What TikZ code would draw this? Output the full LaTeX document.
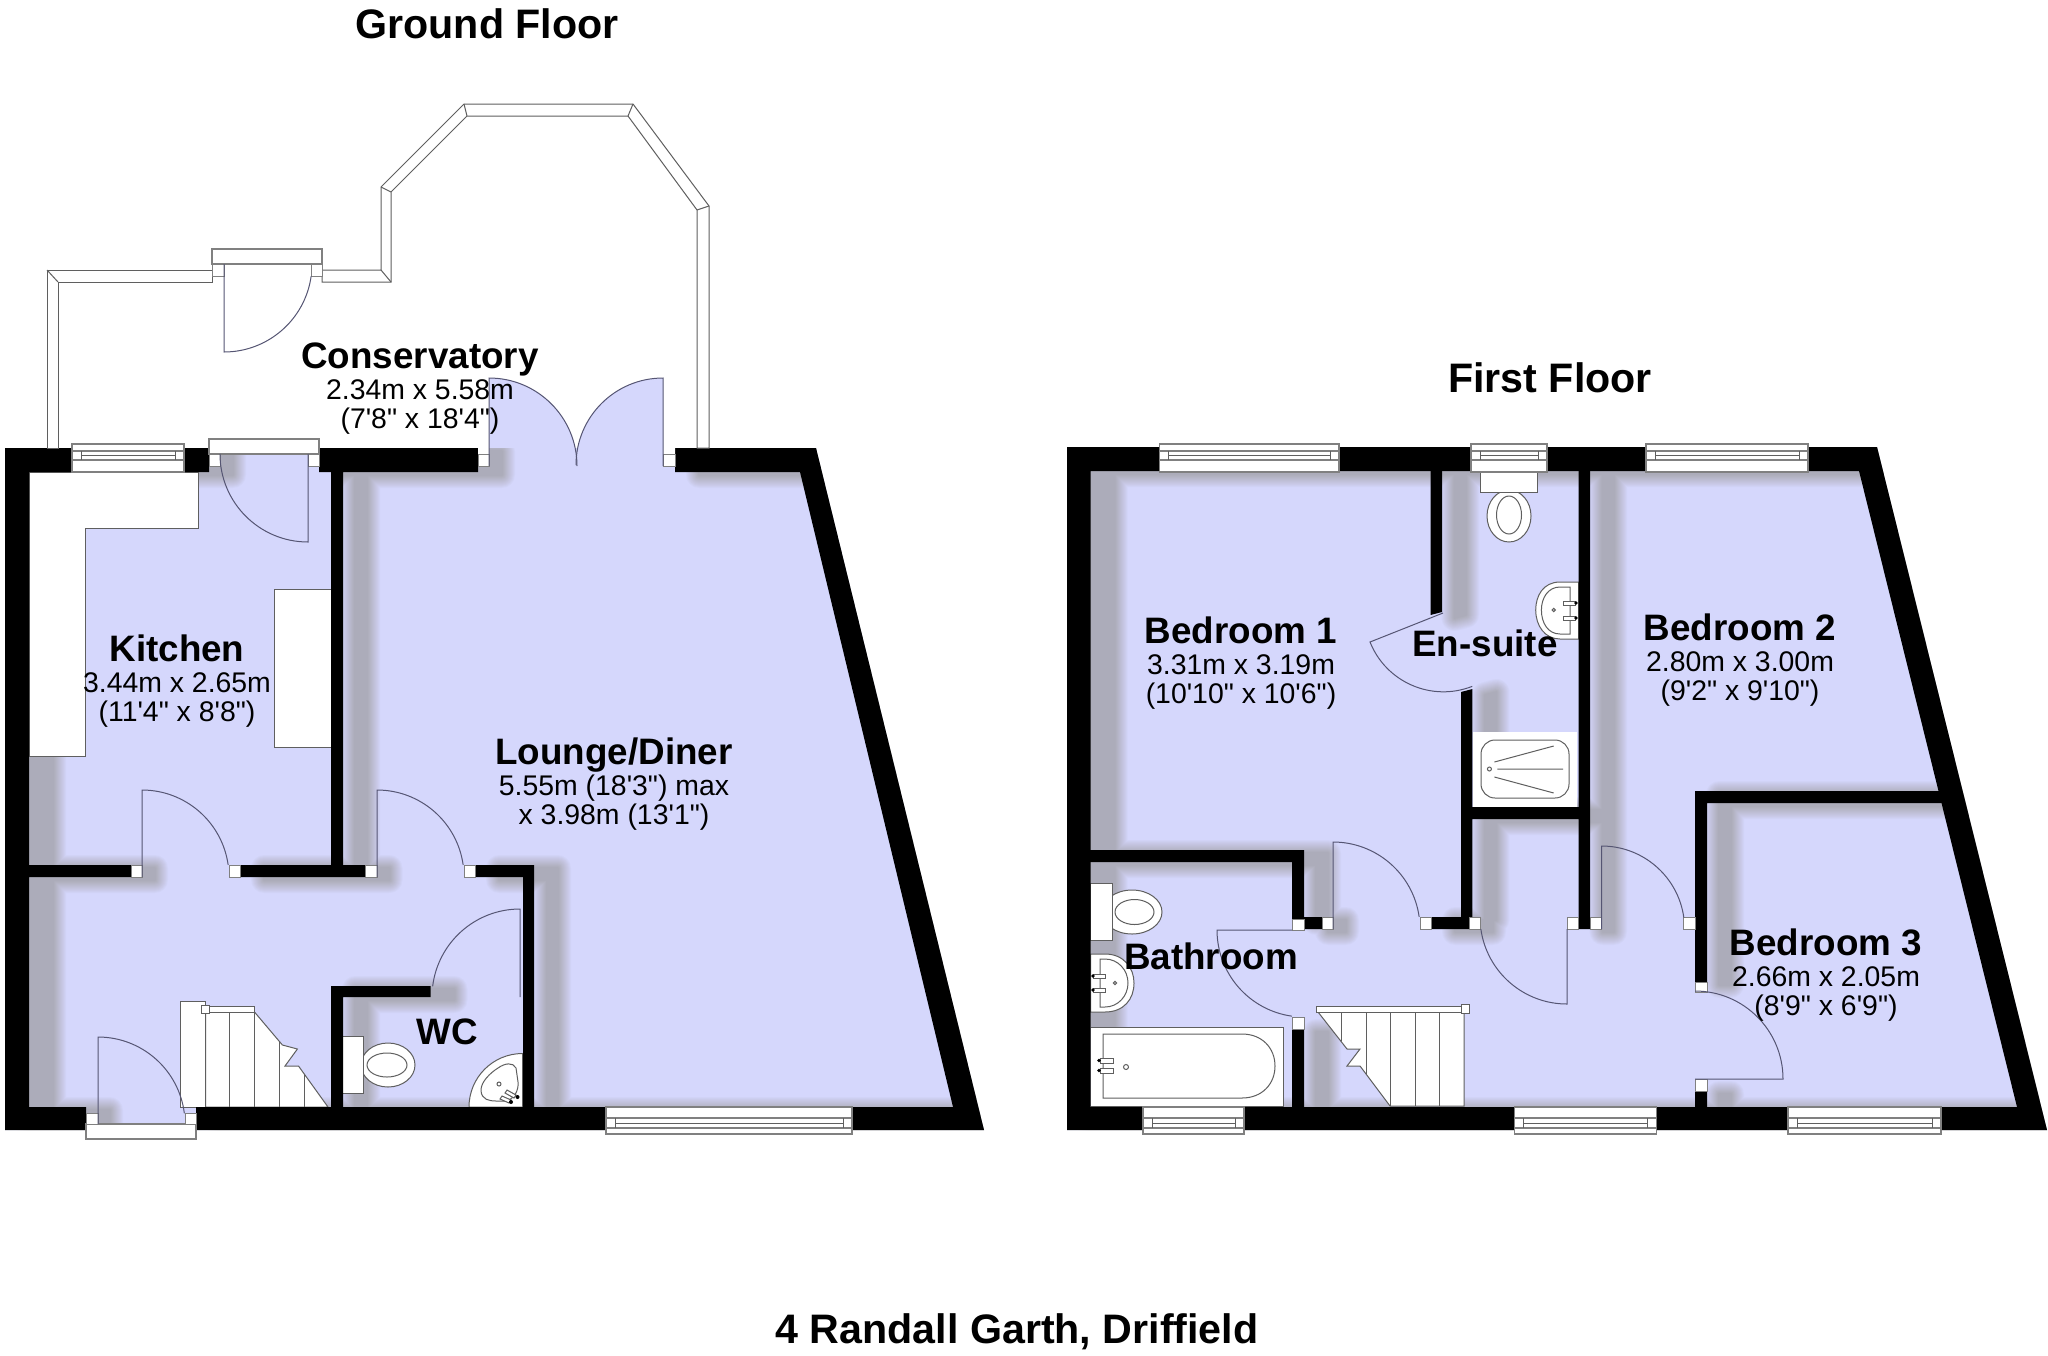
\documentclass[tikz,border=0pt]{standalone}
\usepackage{fontspec}
\usepackage{xcolor}
\usepackage{tikz}
\newfontfamily\planfont{Liberation Sans}
\definecolor{floorblue}{RGB}{213,215,252}
\definecolor{swingline}{RGB}{85,85,115}
\definecolor{fixline}{RGB}{95,95,95}
\definecolor{castshade}{RGB}{81,75,24}
\tikzset{
    floorplan/.style={fill=floorblue},
    wallmass/.style={fill=black},
    shadowlayer/.style={draw=castshade, fill=castshade, line join=round},
    doorline/.style={draw=swingline, line width=0.5pt},
    fixture/.style={fill=white, draw=fixline, line width=0.5pt},
    fineline/.style={draw=fixline, line width=0.5pt},
    jamb/.style={fill=white, draw=gray, line width=0.5pt},
    glazing/.style={fill=white, draw=gray, line width=0.7pt},
    conswall/.style={fill=white, draw=fixline, line width=0.5pt, line join=miter},
    plantitle/.style={font=\planfont\bfseries\fontsize{20.6}{24}\selectfont},
    roomname/.style={font=\planfont\bfseries\fontsize{18.4}{20}\selectfont},
    roomlabel/.style={font=\planfont\fontsize{14.2}{14.5}\selectfont, align=center, inner sep=0pt}
}
\newcommand{\roomtext}[3]{{\bfseries\fontsize{18.4}{14.5}\selectfont #1}\\[1pt]#2\\#3}
% outlines, in pixels of the plan
\newcommand{\groundfloor}{(5,448) -- (816,448) -- (984,1130) -- (5,1130) -- cycle}
\newcommand{\firstfloor}{(1067,447) -- (1877,447) -- (2047,1130) -- (1067,1130) -- cycle}
\newcommand{\groundwalls}{
    (5,448) -- (209,448) -- (209,472) -- (29,472) -- (29,1107) -- (86,1107) -- (86,1130) -- (5,1130) -- cycle
    (319,448) -- (478,448) -- (478,472) -- (343,472) -- (343,877) -- (331,877) -- (331,472) -- (319,472) -- cycle
    (29,865) -- (131,865) -- (131,877) -- (29,877) -- cycle
    (240,865) -- (365.5,865) -- (365.5,877) -- (240,877) -- cycle
    (475,865) -- (534,865) -- (534,1107) -- (523,1107) -- (523,877) -- (475,877) -- cycle
    (331,986) -- (430.5,986) -- (430.5,997) -- (343,997) -- (343,1107) -- (331,1107) -- cycle
    (675,448) -- (816,448) -- (984,1130) -- (196,1130) -- (196,1107) -- (953,1107) -- (800,472) -- (675,472) -- cycle
}
\newcommand{\firstshell}{
    (1067,447) -- (1877,447) -- (2047,1130) -- (1067,1130) -- cycle
    (1090.6,471) -- (1859,471) -- (2017,1107) -- (1090.6,1107) -- cycle
}
\newcommand{\firstwalls}{
    (1430.5,471) -- (1442,471) -- (1442,612) -- (1430.5,615) -- cycle
    (1461,692) -- (1472.4,689) -- (1472.4,917) -- (1469,917) -- (1469,929) -- (1431,929) -- (1431,917) -- (1461,917) -- cycle
    (1461,807) -- (1590,807) -- (1590,819) -- (1461,819) -- cycle
    (1578.6,471) -- (1590,471) -- (1590,929) -- (1578.6,929) -- cycle
    (1695,791) -- (1945,791) -- (1945,803) -- (1707,803) -- (1707,982) -- (1695,982) -- cycle
    (1695,1091) -- (1707,1091) -- (1707,1107) -- (1695,1107) -- cycle
    (1090,850) -- (1304,850) -- (1304,919) -- (1292,919) -- (1292,862) -- (1090,862) -- cycle
    (1304,917) -- (1322,917) -- (1322,929) -- (1304,929) -- cycle
    (1292,1029) -- (1304,1029) -- (1304,1107) -- (1292,1107) -- cycle
}
\begin{document}
\begin{tikzpicture}[x=0.5pt, y=-0.5pt]
    \useasboundingbox (0,0) rectangle (2048,1355);
    % floors
    \fill[floorplan] \groundfloor;
    \fill[floorplan] \firstfloor;
    \fill[floorplan] (489,466) -- (489,378) arc[start angle=270, end angle=360, radius=88] -- cycle;
    \fill[floorplan] (663,466) -- (663,378) arc[start angle=270, end angle=180, radius=87] -- cycle;
    % soft shadows of the walls
    \foreach \sw in {1,...,13} {
        \begin{scope}[transparency group, opacity=0.022]
            \clip \groundfloor;
            \draw[shadowlayer, line width=\sw pt, shift={(24,3)}] \groundwalls;
        \end{scope}
        \begin{scope}[transparency group, opacity=0.022]
            \clip \firstfloor;
            \draw[shadowlayer, line width=\sw pt, shift={(24,3)}, even odd rule] \firstshell;
            \draw[shadowlayer, line width=\sw pt, shift={(24,3)}] \firstwalls;
        \end{scope}
    }
    % kitchen units
    \draw[fixture] (29,472) -- (198,472) -- (198,528) -- (85.7,528) -- (85.7,756) -- (29,756) -- cycle;
    \draw[fixture] (331,589) -- (274,589) -- (274,747) -- (331,747) -- cycle;
    % stairs, ground floor
    \draw[fixture] (205.5,1012) -- (254.5,1012) -- (282.4,1045) -- (297.4,1049) -- (285,1066) -- (298.5,1066) -- (328,1107) -- (205.5,1107) -- cycle;
    \draw[fineline] (229.6,1012) -- (229.6,1107) (254.5,1012) -- (254.5,1107) (279,1041) -- (279,1107) (304,1074) -- (304,1107);
    \draw[fixture] (180,1001) rectangle (205.5,1107);
    \draw[fixture] (209,1006) rectangle (254.5,1012);
    \draw[fixture] (201,1005) rectangle (209,1013);
    % stairs, first floor
    \draw[fixture] (1318,1012) -- (1347,1049) -- (1360,1049) -- (1347,1066) -- (1360,1066) -- (1390,1106) -- (1464,1106) -- (1464,1012) -- cycle;
    \draw[fineline] (1341,1012) -- (1341,1041) (1366,1012) -- (1366,1074) (1390,1012) -- (1390,1106) (1415,1012) -- (1415,1106) (1439.5,1012) -- (1439.5,1106);
    \draw[fixture] (1316.5,1006) rectangle (1464,1012);
    \draw[fixture] (1461,1004) rectangle (1469.6,1013);
    % wc toilet and corner basin
    \draw[fixture] (388,1065) ellipse[x radius=27, y radius=22];
    \draw[fixture] (387,1065) ellipse[x radius=20, y radius=12];
    \draw[fixture] (342.5,1036) rectangle (363.6,1093);
    \draw[fixture] (469,1107) arc[start angle=180, end angle=270, radius=53.5] -- (522.5,1107) -- cycle;
    \draw[fineline] (516,1068) .. controls (513,1062) and (505,1063) .. (498,1068) .. controls (490,1073) and (481,1082) .. (481,1090) .. controls (481,1100) and (490,1101) .. (496,1101) -- (505,1101) .. controls (514,1100) and (519,1090) .. (518,1082) -- cycle;
    \draw[fineline] (499,1084) circle[radius=2];
    \draw[fixture] (507,1090) -- (516,1095) -- (514,1098) -- (505,1093) -- cycle;
    \draw[fixture] (502,1096) -- (511,1100) -- (509,1103) -- (500,1099) -- cycle;
    \fill (517.5,1097) circle[radius=2] (511,1102) circle[radius=2];
    % ensuite fittings
    \draw[fixture] (1509,516) ellipse[x radius=22, y radius=26];
    \draw[fixture] (1509,515) ellipse[x radius=12.5, y radius=19];
    \draw[fixture] (1480,471) rectangle (1537.6,492);
    \draw[fixture] (1578.6,582) -- (1560,582) .. controls (1543,582) and (1535.7,596) .. (1535.7,610) .. controls (1535.7,626) and (1545,639) .. (1560,639) -- (1578.6,639) -- cycle;
    \draw[fineline] (1570,587) -- (1560,587) .. controls (1548,587) and (1541.4,598) .. (1541.4,610) .. controls (1541.4,623) and (1548,634) .. (1560,634) -- (1570,634) -- cycle;
    \draw[fineline] (1553.7,610) circle[radius=1.6];
    \draw[fixture] (1563,601) rectangle (1575,605);
    \draw[fixture] (1563,616) rectangle (1575,620);
    \fill (1576,603) circle[radius=1.8] (1576,618) circle[radius=1.8];
    \fill[white] (1472.5,732) rectangle (1577,807);
    \draw[fineline, rounded corners=7pt] (1481,740) rectangle (1569,798);
    \draw[fineline] (1489.4,769) circle[radius=2];
    \draw[fineline] (1494.4,762) -- (1553.7,746) (1497.4,769) -- (1563,769) (1494.4,777) -- (1553.7,793);
    % bathroom fittings
    \draw[fixture] (1132,912) ellipse[x radius=30, y radius=22];
    \draw[fixture] (1134.5,912) ellipse[x radius=19.5, y radius=12.5];
    \draw[fixture] (1090.6,883) rectangle (1112,940);
    \draw[fixture] (1090.6,954) -- (1105,954) .. controls (1124,954) and (1134,968) .. (1134,983) .. controls (1134,999) and (1124,1012) .. (1105,1012) -- (1090.6,1012) -- cycle;
    \draw[fineline] (1100,959) -- (1105,959) .. controls (1118,959) and (1128,970) .. (1128,983) .. controls (1128,996) and (1118,1007) .. (1105,1007) -- (1100,1007) -- cycle;
    \draw[fineline] (1115,983) circle[radius=1.6];
    \draw[fixture] (1093,974) rectangle (1105,978);
    \draw[fixture] (1093,988) rectangle (1105,992);
    \fill (1093,976) circle[radius=1.8] (1093,990) circle[radius=1.8];
    \draw[fixture] (1090.6,1027) -- (1283,1027) -- (1283,1106) -- (1090.6,1106);
    \draw[fineline] (1103,1034) -- (1242,1034) .. controls (1262,1034) and (1275,1048) .. (1275,1066) .. controls (1275,1084) and (1262,1098) .. (1242,1098) -- (1103,1098) -- cycle;
    \draw[fineline] (1126,1067) circle[radius=2.5];
    \draw[fixture] (1100,1058) rectangle (1113,1063);
    \draw[fixture] (1100,1068) rectangle (1113,1073);
    \fill (1099,1060.5) circle[radius=1.8] (1099,1070.5) circle[radius=1.8];
    % walls
    \fill[wallmass] \groundwalls;
    \fill[wallmass, even odd rule] \firstshell;
    \fill[wallmass] \firstwalls;
    % conservatory
    \draw[conswall] (47,448) -- (47,270) -- (212,270) -- (212,282) -- (58,282) -- (58,448) -- cycle;
    \draw[conswall] (322,270) -- (381,270) -- (381,187) -- (464,104) -- (633,104) -- (709,206) -- (709,448) -- (697,448) -- (697,210) -- (628,116) -- (467,116) -- (391,192) -- (391,282) -- (322,282) -- cycle;
    \draw[fineline] (47,270) -- (58,282) (381,270) -- (391,282) (381,187) -- (391,192) (464,104) -- (467,116) (633,104) -- (628,116) (709,206) -- (697,210);
    \fill[white] (478,448) rectangle (489,454) (663,448) rectangle (675,454);
    % door frames and jambs
    \draw[glazing] (212,249) rectangle (322,264);
    \draw[glazing] (209,439) rectangle (319,454);
    \draw[glazing] (86,1124) rectangle (196,1139);
    \foreach \ja/\jb/\jc/\jd in {
        212/264/224/276, 311/264/322/276, 209/454/220/466, 308/454/319/466,
        478/454/489/466, 663/454/675/466, 131/865/142/877, 229/865/240/877,
        365.5/865/377/877, 464/865/475/877, 86/1113/98/1124, 185/1113/196/1124,
        1292/919/1304/930, 1322/917/1333/929, 1420/917/1431/929, 1469/917/1480/929,
        1567/917/1578.6/929, 1590/917/1601.6/929, 1683.5/917/1695/929,
        1695/982/1707/992, 1695/1079/1707/1091, 1292/1017/1304/1029}
        \draw[jamb] (\ja,\jb) rectangle (\jc,\jd);
    % windows
    \foreach \xa/\xb in {72/184, 1159.5/1339, 1471/1547, 1646/1808} {
        \draw[glazing] (\xa,444) rectangle (\xb,472);
        \draw[glazing] (\xa,451) -- (\xb,451) (\xa,460) -- (\xb,460);
        \draw[fineline] (\xa+9,451) -- (\xa+9,460) (\xb-9,451) -- (\xb-9,460) (\xa+9,455.5) -- (\xb-9,455.5);
    }
    \foreach \xa/\xb in {606/852, 1143/1244, 1514.5/1656.6, 1788/1941} {
        \draw[glazing] (\xa,1107) rectangle (\xb,1134);
        \draw[glazing] (\xa,1118) -- (\xb,1118) (\xa,1128) -- (\xb,1128);
        \draw[fineline] (\xa+9,1118) -- (\xa+9,1128) (\xb-9,1118) -- (\xb-9,1128) (\xa+9,1123) -- (\xb-9,1123);
    }
    % door leaves
    \draw[doorline] (142,877) -- (142,790) arc[start angle=270, end angle=352, radius=87];
    \draw[doorline] (377,877) -- (377,790) arc[start angle=270, end angle=352, radius=87];
    \draw[doorline] (98,1124) -- (98,1037) arc[start angle=270, end angle=353, radius=87];
    \draw[doorline] (308,454) -- (308,542) arc[start angle=90, end angle=180, radius=88];
    \draw[doorline] (224,264) -- (224,352) arc[start angle=90, end angle=8, radius=88];
    \draw[doorline] (489,466) -- (489,378) arc[start angle=270, end angle=360, radius=88];
    \draw[doorline] (663,466) -- (663,378) arc[start angle=270, end angle=180, radius=87];
    \draw[doorline] (520,997) -- (520,909) arc[start angle=270, end angle=187, radius=88];
    \draw[doorline] (1443,613) -- (1370,642) arc[start angle=158.3, end angle=68.6, radius=79];
    \draw[doorline] (1333,929) -- (1333,842) arc[start angle=270, end angle=352, radius=87];
    \draw[doorline] (1567,929) -- (1567,1004) arc[start angle=90, end angle=172, radius=87];
    \draw[doorline] (1601.6,929) -- (1601.6,846) arc[start angle=270, end angle=352, radius=83];
    \draw[doorline] (1695,1079) -- (1783,1079) arc[start angle=360, end angle=270, radius=88];
    \draw[doorline] (1292,930) -- (1217,930) arc[start angle=180, end angle=98, radius=87];
    % titles
    \node[plantitle] (groundtitle) at (487,24) {Ground Floor};
    \node[plantitle] (firsttitle) at (1550,378) {First Floor};
    \node[plantitle] (addresstitle) at (1017,1332) {4 Randall Garth, Driffield};
    % rooms
    \node[roomlabel] (conservatory) at (420,389) {\roomtext{Conservatory}{2.34m x 5.58m}{(7'8" x 18'4")}};
    \node[roomlabel] (kitchen) at (177,681) {\roomtext{Kitchen}{3.44m x 2.65m}{(11'4" x 8'8")}};
    \node[roomlabel] (lounge) at (614,784) {\roomtext{Lounge/Diner}{5.55m (18'3") max}{x 3.98m (13'1")}};
    \node[roomname] (wc) at (447,1032) {WC};
    \node[roomlabel] (bedone) at (1241,663) {\roomtext{Bedroom 1}{3.31m x 3.19m}{(10'10" x 10'6")}};
    \node[roomname] (ensuite) at (1485,643) {En-suite};
    \node[roomlabel] (bedtwo) at (1740,660) {\roomtext{Bedroom 2}{2.80m x 3.00m}{(9'2" x 9'10")}};
    \node[roomlabel] (bedthree) at (1826,975) {\roomtext{Bedroom 3}{2.66m x 2.05m}{(8'9" x 6'9")}};
    \node[roomname] (bathroom) at (1211,956) {Bathroom};
\end{tikzpicture}
\end{document}
